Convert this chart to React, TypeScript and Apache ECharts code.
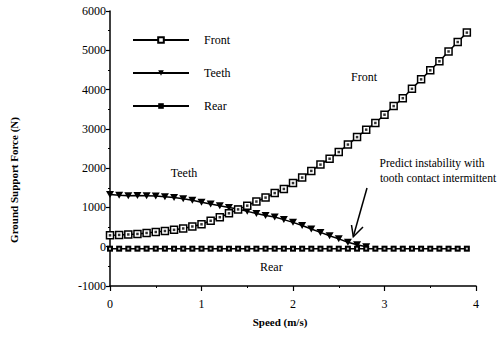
import React, { useEffect, useRef } from "react";
import * as echarts from "echarts";

const speeds = [
  0, 0.1, 0.2, 0.3, 0.4, 0.5, 0.6, 0.7, 0.8, 0.9,
  1.0, 1.1, 1.2, 1.3, 1.4, 1.5, 1.6, 1.7, 1.8, 1.9,
  2.0, 2.1, 2.2, 2.3, 2.4, 2.5, 2.6, 2.7, 2.8, 2.9,
  3.0, 3.1, 3.2, 3.3, 3.4, 3.5, 3.6, 3.7, 3.8, 3.9,
];

const frontForce = [
  290, 300, 312, 325, 350, 375, 400, 430, 465, 515,
  570, 660, 750, 850, 950, 1045, 1150, 1250, 1365, 1470,
  1620, 1760, 1930, 2090, 2240, 2410, 2600, 2790, 2980, 3150,
  3360, 3580, 3780, 4020, 4260, 4490, 4720, 4970, 5210, 5450,
];

const teethForce = [
  1330, 1310, 1300, 1305, 1300, 1290, 1270, 1250, 1220, 1180,
  1130, 1085, 1040, 1000, 960, 900, 845, 795, 755, 690,
  620, 540, 450, 365, 280, 200, 115, 50, 0,
];

const rearForce = [
  -50, -50, -50, -50, -50, -50, -50, -50, -50, -50,
  -50, -50, -50, -50, -50, -50, -50, -50, -50, -50,
  -50, -50, -50, -50, -50, -50, -50, -50, -50, -50,
  -50, -50, -50, -50, -50, -50, -50, -50, -50, -50,
];

const FAMILY = "'Liberation Serif', 'Times New Roman', serif";

export default function App() {
  const ref = useRef<HTMLDivElement>(null);

  useEffect(() => {
    document.body.style.margin = "0";
    if (!ref.current) return;
    const chart = echarts.init(ref.current, null, { renderer: "svg" });

    const pairs = (ys: number[]) => ys.map((y, i) => [speeds[i], y]);
    const plain = (v: number) => String(v);
    const txt = (size: number, bold = false) => ({
      fontFamily: FAMILY,
      fontSize: size,
      fontWeight: bold ? "bold" : "normal",
      fill: "#000",
    });

    chart.setOption({
      animation: false,
      backgroundColor: "#ffffff",
      textStyle: { fontFamily: FAMILY, color: "#000" },
      grid: { left: 110, right: 27, top: 11, bottom: 62 },
      legend: {
        orient: "vertical",
        left: 127,
        top: 29,
        itemWidth: 56,
        itemHeight: 7,
        itemGap: 21,
        textStyle: { fontFamily: FAMILY, fontSize: 12, color: "#000", padding: [0, 0, 0, 10] },
        data: ["Front", "Teeth", "Rear"],
      },
      xAxis: {
        type: "value",
        min: 0,
        max: 4,
        interval: 1,
        axisLine: { show: true, onZero: false, lineStyle: { color: "#000", width: 1.5 } },
        axisTick: { show: true, length: 5, lineStyle: { color: "#000", width: 1.2 } },
        minorTick: { show: true, splitNumber: 2, length: 2, lineStyle: { color: "#000" } },
        splitLine: { show: false },
        axisLabel: { fontFamily: FAMILY, fontSize: 12, color: "#000", margin: 12, formatter: plain },
      },
      yAxis: {
        type: "value",
        min: -1000,
        max: 6000,
        interval: 1000,
        axisLine: { show: true, onZero: false, lineStyle: { color: "#000", width: 1.5 } },
        axisTick: { show: true, length: 4, lineStyle: { color: "#000", width: 1.2 } },
        minorTick: { show: true, splitNumber: 2, length: 2, lineStyle: { color: "#000" } },
        splitLine: { show: false },
        axisLabel: { fontFamily: FAMILY, fontSize: 12, color: "#000", margin: 4, formatter: plain },
      },
      graphic: [
        {
          type: "text",
          x: 14,
          y: 180,
          rotation: Math.PI / 2,
          style: { text: "Ground Support Force (N)", ...txt(11, true), align: "center", verticalAlign: "middle" },
        },
        {
          type: "text",
          x: 280,
          y: 322,
          style: { text: "Speed (m/s)", ...txt(11, true), align: "center", verticalAlign: "middle" },
        },
        {
          type: "text",
          x: 364,
          y: 77,
          style: { text: "Front", ...txt(12), align: "center", verticalAlign: "middle" },
        },
        {
          type: "text",
          x: 184,
          y: 173,
          style: { text: "Teeth", ...txt(12), align: "center", verticalAlign: "middle" },
        },
        {
          type: "text",
          x: 260,
          y: 267,
          style: { text: "Rear", ...txt(12), align: "left", verticalAlign: "middle" },
        },
        {
          type: "text",
          x: 432,
          y: 163,
          style: { text: "Predict instability with", ...txt(11.5), align: "center", verticalAlign: "middle" },
        },
        {
          type: "text",
          x: 438,
          y: 178,
          style: { text: "tooth contact intermittent", ...txt(11.5), align: "center", verticalAlign: "middle" },
        },
        {
          type: "line",
          shape: { x1: 367, y1: 188, x2: 353.3, y2: 236.5 },
          style: { stroke: "#000", lineWidth: 1.5 },
        },
        {
          type: "polyline",
          shape: { points: [[351.5, 225], [353.3, 236.7], [363, 227]] },
          style: { stroke: "#000", lineWidth: 1.5, fill: null },
        },
      ],
      series: [
        {
          name: "Front",
          type: "line",
          data: pairs(frontForce),
          symbol: "rect",
          symbolSize: 7,
          showAllSymbol: true,
          lineStyle: { color: "#000", width: 1.5 },
          itemStyle: { color: "#fff", borderColor: "#000", borderWidth: 1.5 },
          z: 3,
        },
        {
          name: "FrontDot",
          type: "scatter",
          data: pairs(frontForce),
          symbol: "rect",
          symbolSize: 2.5,
          itemStyle: { color: "#000" },
          silent: true,
          z: 4,
        },
        {
          name: "Teeth",
          type: "line",
          data: pairs(teethForce),
          symbol: "triangle",
          symbolRotate: 180,
          symbolSize: [8, 7],
          showAllSymbol: true,
          lineStyle: { color: "#000", width: 1.5 },
          itemStyle: { color: "#000" },
          z: 2,
        },
        {
          name: "Rear",
          type: "line",
          data: pairs(rearForce),
          symbol: "rect",
          symbolSize: 6,
          showAllSymbol: true,
          lineStyle: { color: "#000", width: 1.5 },
          itemStyle: { color: "#000" },
          z: 2,
        },
        {
          name: "RearDot",
          type: "scatter",
          data: pairs(rearForce),
          symbol: "rect",
          symbolSize: 2,
          itemStyle: { color: "#fff" },
          silent: true,
          z: 4,
        },
      ],
    });

    return () => chart.dispose();
  }, []);

  return <div ref={ref} style={{ width: 503, height: 348 }} />;
}
